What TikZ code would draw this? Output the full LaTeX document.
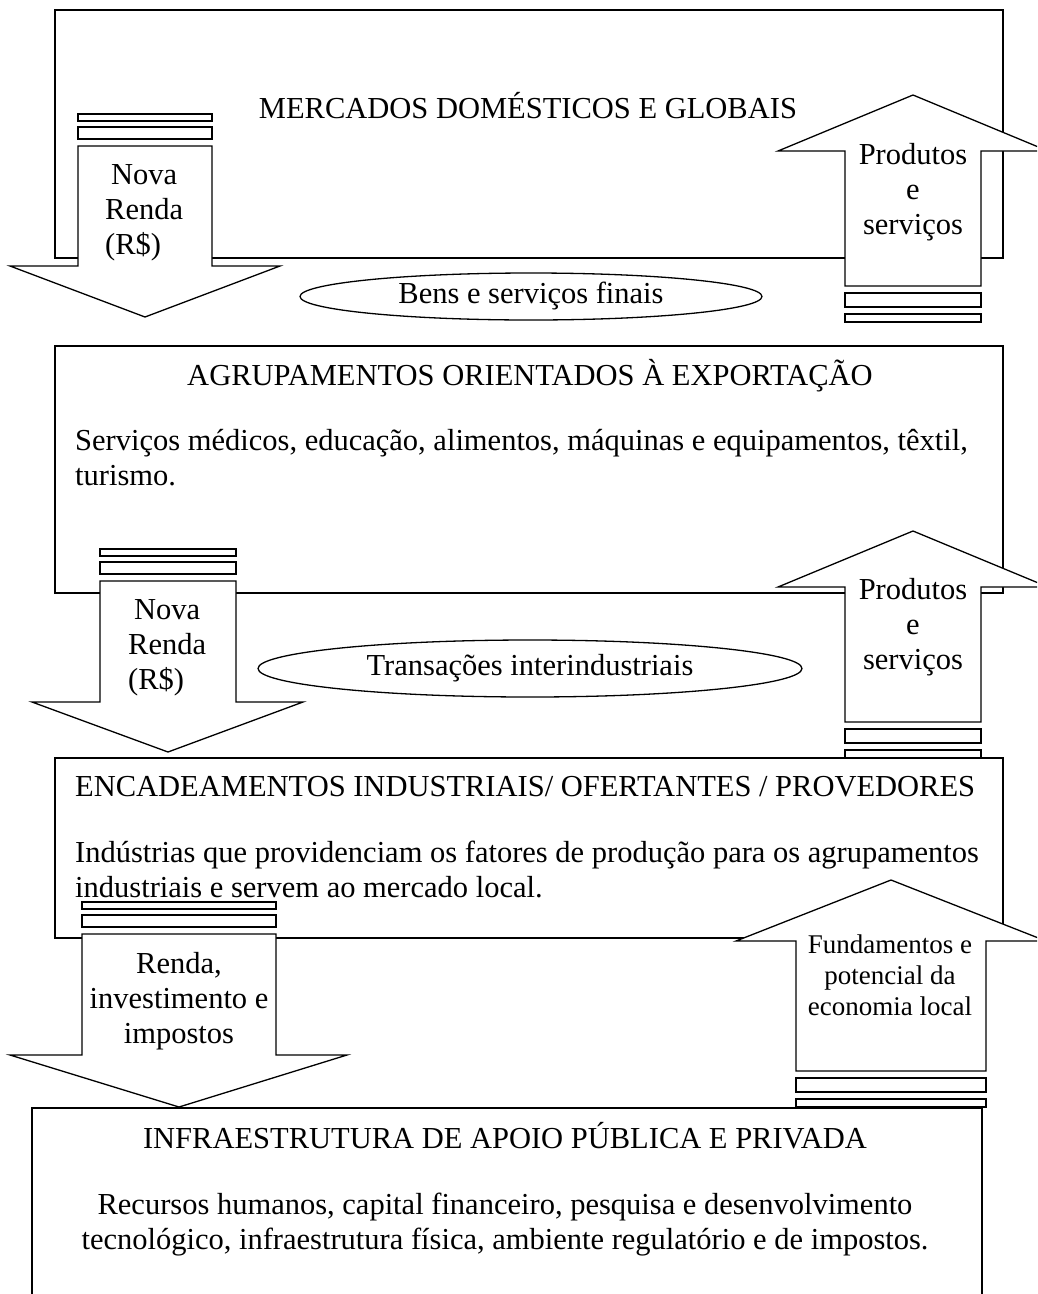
\documentclass[tikz,border=0pt]{standalone}
\usepackage{fontspec}
\setmainfont{Liberation Serif}
\usetikzlibrary{shapes.geometric}
\newcommand\fsA{\fontsize{30.5}{35}\selectfont}
\newcommand\fsB{\fontsize{27}{31}\selectfont}
\tikzset{
  frame/.style={draw, line width=1.3pt},
  blk/.style={draw, fill=white, line width=1.3pt, line join=miter},
  txt/.style={inner sep=0pt, font=\fsA, execute at begin node=\strut, execute at end node=\strut},
  txtsmall/.style={txt, font=\fsB},
  oval/.style={ellipse, draw, line width=1.3pt, inner sep=0pt, font=\fsA}
}
% down block arrow: xL xR yTop yBase headL headR yTip
\newcommand\dnarr[7]{%
  \filldraw[blk] (#1,#3-32) rectangle (#2,#3-25);
  \filldraw[blk] (#1,#3-19) rectangle (#2,#3-7);
  \filldraw[blk] (#1,#3) -- (#2,#3) -- (#2,#4) -- (#6,#4) -- ({(#1+#2)/2},#7) -- (#5,#4) -- (#1,#4) -- cycle;
}
% up block arrow: xL xR yBot yBase headL headR yTip
\newcommand\uparr[7]{%
  \filldraw[blk] (#1,#3+7) rectangle (#2,#3+21);
  \filldraw[blk] (#1,#3+28) rectangle (#2,#3+36);
  \filldraw[blk] (#1,#3) -- (#2,#3) -- (#2,#4) -- (#6,#4) -- ({(#1+#2)/2},#7) -- (#5,#4) -- (#1,#4) -- cycle;
}
\begin{document}
\begin{tikzpicture}[x=1pt,y=-1pt]
\useasboundingbox (0,0) rectangle (1037,1294);
\fill[white] (0,0) rectangle (1037,1294);
\clip (0,0) rectangle (1037,1294);

% boxes
\draw[frame] (55,10) rectangle (1003,258);
\draw[frame] (55,346) rectangle (1003,593);
\draw[frame] (55,758) rectangle (1003,938);
\draw[frame] (32,1108) rectangle (982,1320);

% box texts
\node[txt] (t1) at (528,111) {MERCADOS DOMÉSTICOS E GLOBAIS};
\node[txt] (t2) at (530,378) {AGRUPAMENTOS ORIENTADOS À EXPORTAÇÃO};
\node[txt, anchor=west, align=left] (t2b) at (75,463) {Serviços médicos, educação, alimentos, máquinas e equipamentos, têxtil,\\turismo.};
\node[txt, anchor=west] (t3) at (75,789) {ENCADEAMENTOS INDUSTRIAIS/ OFERTANTES / PROVEDORES};
\node[txt, anchor=west, align=left] (t3b) at (75,874.5) {Indústrias que providenciam os fatores de produção para os agrupamentos\\industriais e servem ao mercado local.};
\node[txt] (t4) at (505,1141) {INFRAESTRUTURA DE APOIO PÚBLICA E PRIVADA};
\node[txt, align=center] (t4b) at (505,1226) {Recursos humanos, capital financeiro, pesquisa e desenvolvimento\\tecnológico, infraestrutura física, ambiente regulatório e de impostos.};

% ellipses
\node[oval, minimum width=462pt, minimum height=47pt] (e1) at (531,296.5) {Bens e serviços finais};
\node[oval, minimum width=544pt, minimum height=57pt] (e2) at (530,668.5) {Transações interindustriais};

% arrows
\dnarr{78}{212}{146}{266}{10}{280}{317}
\uparr{845}{981}{286}{151}{778}{1048}{95}
\dnarr{100}{236}{581}{702}{32}{303}{752}
\uparr{845}{981}{722}{587}{778}{1048}{531}
\dnarr{82}{276}{934}{1055}{10}{347}{1107}
\uparr{796}{986}{1071}{941}{736}{1046}{880}

% arrow texts
\node[txt, anchor=west, align=left] (a1) at (105,215) {\hspace{6pt}Nova\\Renda\\(R\$)};
\node[txt, align=center] (u1) at (913,194.5) {Produtos\\e\\serviços};
\node[txt, anchor=west, align=left] (a2) at (128,650) {\hspace{6pt}Nova\\Renda\\(R\$)};
\node[txt, align=center] (u2) at (913,629.5) {Produtos\\e\\serviços};
\node[txt, align=center] (a3) at (179,1003) {Renda,\\investimento e\\impostos};
\node[txtsmall, align=center] (u3) at (890,979.8) {Fundamentos e\\potencial da\\economia local};
\end{tikzpicture}
\end{document}
